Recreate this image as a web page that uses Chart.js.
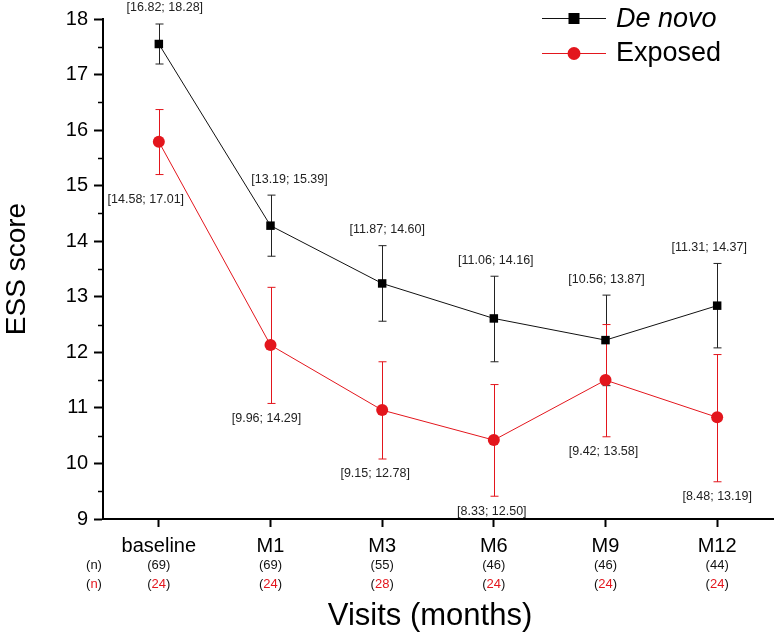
<!DOCTYPE html>
<html>
<head>
<meta charset="utf-8">
<script src="https://cdn.jsdelivr.net/npm/chart.js@4.4.1/dist/chart.umd.min.js"></script>
<style>
  html, body { margin: 0; padding: 0; background: #fff; }
  #wrap { width: 779px; height: 636px; position: relative; }
</style>
</head>
<body>
<div id="wrap"><canvas id="chart"></canvas></div>
<script>
const visits = ['baseline', 'M1', 'M3', 'M6', 'M9', 'M12'];

const deNovoMean = [17.55, 14.28, 13.24, 12.61, 12.22, 12.84];
const deNovoLow  = [17.19, 13.73, 12.56, 11.83, 11.40, 12.08];
const deNovoHigh = [17.91, 14.83, 13.92, 13.37, 13.03, 13.60];
const deNovoCI = ['[16.82; 18.28]', '[13.19; 15.39]', '[11.87; 14.60]', '[11.06; 14.16]', '[10.56; 13.87]', '[11.31; 14.37]'];
const deNovoN = [69, 69, 55, 46, 46, 44];

const exposedMean = [15.79, 12.13, 10.96, 10.42, 11.50, 10.83];
const exposedLow  = [15.20, 11.08, 10.08, 9.41, 10.48, 9.67];
const exposedHigh = [16.37, 13.17, 11.83, 11.42, 12.50, 11.96];
const exposedCI = ['[14.58; 17.01]', '[9.96; 14.29]', '[9.15; 12.78]', '[8.33; 12.50]', '[9.42; 13.58]', '[8.48; 13.19]'];
const exposedN = [24, 24, 28, 24, 24, 24];

const yTicks = [9, 10, 11, 12, 13, 14, 15, 16, 17, 18];

const BLACK = '#111';
const RED = '#e3161d';
const FONT = "'Liberation Sans', Arial, sans-serif";

// error bars, CI labels, minor ticks, n rows, x title and legend
const extras = {
    id: 'extras',
    beforeDatasetsDraw(chart) {
        const ctx = chart.ctx;
        const x = chart.scales.x, y = chart.scales.y;
        const bars = [
            [deNovoLow, deNovoHigh, '#222'],
            [exposedLow, exposedHigh, RED]
        ];
        ctx.save();
        ctx.lineWidth = 1;
        for (const [lo, hi, col] of bars) {
            ctx.strokeStyle = col;
            lo.forEach((v, i) => {
                const px = Math.round(x.getPixelForValue(i)) + 0.5;
                const y1 = y.getPixelForValue(v), y2 = y.getPixelForValue(hi[i]);
                ctx.beginPath();
                ctx.moveTo(px, y1); ctx.lineTo(px, y2);
                ctx.moveTo(px - 4, y1); ctx.lineTo(px + 4, y1);
                ctx.moveTo(px - 4, y2); ctx.lineTo(px + 4, y2);
                ctx.stroke();
            });
        }
        ctx.restore();
    },
    afterDraw(chart) {
        const ctx = chart.ctx;
        const x = chart.scales.x, y = chart.scales.y;
        const area = chart.chartArea;
        ctx.save();

        // minor y ticks
        ctx.strokeStyle = '#000';
        ctx.lineWidth = 1.5;
        for (let v = 9.5; v < 18; v += 1) {
            const py = Math.round(y.getPixelForValue(v)) + 0.5;
            ctx.beginPath();
            ctx.moveTo(area.left - 5, py); ctx.lineTo(area.left, py);
            ctx.stroke();
        }

        // CI labels
        ctx.font = '12.5px ' + FONT;
        ctx.fillStyle = '#222';
        ctx.textAlign = 'center';
        ctx.textBaseline = 'middle';
        const dnDx = [6, 19, 5, 2, 1, -8];
        const exDx = [-13, -4, -7, -2, -2, 0];
        deNovoCI.forEach((t, i) => {
            ctx.fillText(t, x.getPixelForValue(i) + dnDx[i], y.getPixelForValue(deNovoHigh[i]) - 16);
        });
        exposedCI.forEach((t, i) => {
            const extra = i === 0 ? 10 : 0;
            ctx.fillText(t, x.getPixelForValue(i) + exDx[i], y.getPixelForValue(exposedLow[i]) + 15 + extra);
        });

        // (n) rows under the category labels
        ctx.font = '13px ' + FONT;
        const rows = [[deNovoN, 565, BLACK], [exposedN, 584, RED]];
        for (const [vals, py, col] of rows) {
            const parts = (cx, inner) => {
                const wl = ctx.measureText('(').width, wi = ctx.measureText(inner).width, wr = ctx.measureText(')').width;
                let sx = cx - (wl + wi + wr) / 2;
                ctx.textAlign = 'left';
                ctx.fillStyle = BLACK; ctx.fillText('(', sx, py);
                ctx.fillStyle = col; ctx.fillText(inner, sx + wl, py);
                ctx.fillStyle = BLACK; ctx.fillText(')', sx + wl + wi, py);
            };
            parts(94, 'n');
            vals.forEach((v, i) => parts(x.getPixelForValue(i), String(v)));
        }

        // x axis title
        ctx.fillStyle = '#000';
        ctx.textAlign = 'center';
        ctx.font = '31px ' + FONT;
        ctx.fillText('Visits (months)', 430, 616);

        // legend
        const lx = 542, lw = 64;
        ctx.lineWidth = 1;
        ctx.strokeStyle = BLACK;
        ctx.beginPath(); ctx.moveTo(lx, 18.5); ctx.lineTo(lx + lw, 18.5); ctx.stroke();
        ctx.fillStyle = '#000';
        ctx.fillRect(lx + lw / 2 - 5.5, 13, 11, 11);
        ctx.strokeStyle = RED;
        ctx.beginPath(); ctx.moveTo(lx, 53.5); ctx.lineTo(lx + lw, 53.5); ctx.stroke();
        ctx.fillStyle = RED;
        ctx.beginPath(); ctx.arc(lx + lw / 2, 53.5, 6.5, 0, Math.PI * 2); ctx.fill();

        ctx.fillStyle = '#000';
        ctx.textAlign = 'left';
        ctx.font = 'italic 27px ' + FONT;
        ctx.fillText('De novo', 616, 19);
        ctx.font = '27px ' + FONT;
        ctx.fillText('Exposed', 616, 54);

        ctx.restore();
    }
};

const config = {
    type: 'line',
    data: {
        labels: visits,
        datasets: [
            {
                label: 'De novo',
                data: deNovoMean,
                borderColor: BLACK,
                backgroundColor: '#000',
                borderWidth: 1,
                pointStyle: 'rect',
                pointRadius: 6,
                pointBorderWidth: 0,
                order: 1
            },
            {
                label: 'Exposed',
                data: exposedMean,
                borderColor: RED,
                backgroundColor: RED,
                borderWidth: 1,
                pointStyle: 'circle',
                pointRadius: 6,
                pointBorderWidth: 0,
                order: 2
            }
        ]
    },
    plugins: [extras],
    options: {
        responsive: true,
        maintainAspectRatio: false,
        animation: false,
        layout: { padding: { top: 19, right: 0, left: 0, bottom: 0 } },
        plugins: {
            legend: { display: false },
            tooltip: { enabled: false }
        },
        scales: {
            x: {
                type: 'category',
                offset: true,
                border: { color: '#000', width: 2 },
                grid: { drawOnChartArea: false, offset: false, color: '#000', tickLength: 8, tickWidth: 2 },
                ticks: { color: '#000', font: { family: FONT, size: 20 }, padding: 7, maxRotation: 0 },
                afterFit: s => { s.height = 117; }
            },
            y: {
                min: 9,
                max: 18,
                afterBuildTicks: s => { s.ticks = yTicks.map(v => ({ value: v })); },
                border: { color: '#000', width: 2 },
                grid: { drawOnChartArea: false, color: '#000', tickLength: 9, tickWidth: 2 },
                ticks: { color: '#000', font: { family: FONT, size: 20 }, padding: 6 },
                title: {
                    display: true,
                    text: 'ESS score',
                    color: '#000',
                    font: { family: FONT, size: 28 },
                    padding: { top: 0, bottom: 0 }
                },
                afterFit: s => { s.width = 103; }
            }
        }
    }
};

new Chart(document.getElementById('chart'), config);
</script>
</body>
</html>
